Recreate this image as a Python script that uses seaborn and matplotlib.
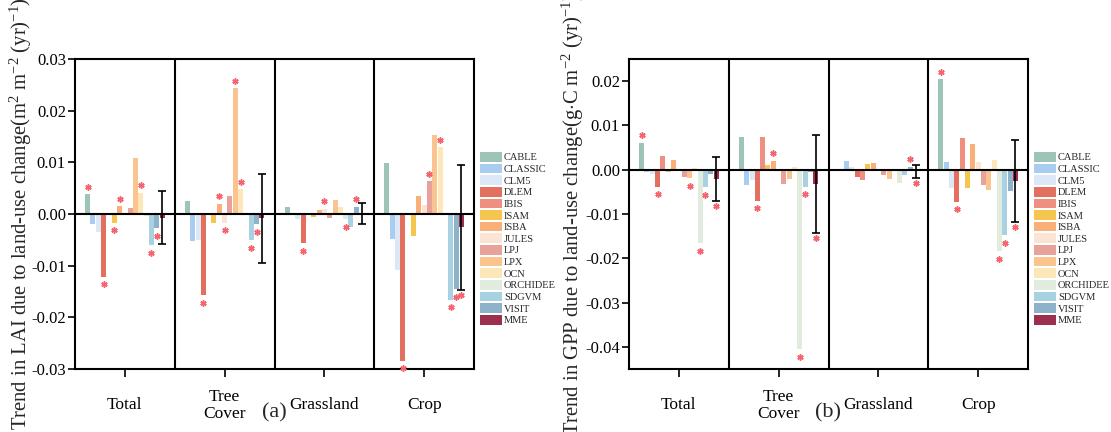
import numpy as np
import pandas as pd
import matplotlib
matplotlib.use("Agg")
import matplotlib.pyplot as plt
import seaborn as sns
from matplotlib.transforms import offset_copy

models = ["CABLE", "CLASSIC", "CLM5", "DLEM", "IBIS", "ISAM", "ISBA", "JULES",
          "LPJ", "LPX", "OCN", "ORCHIDEE", "SDGVM", "VISIT", "MME"]
regions = ["Total", "Tree\nCover", "Grassland", "Crop"]
colors = ["#9DC4B8", "#A9CDF0", "#DCE8F6", "#E3705F", "#EE8F80", "#F4C54F",
          "#FBAF78", "#FBE4D4", "#E9A29A", "#F9C48F", "#FDE6B8", "#E1ECDE",
          "#A8D1E1", "#8EB2C9", "#9B2F4D"]

# LAI trends (m2 m-2 yr-1)
lai_total = [0.0038, -0.0019, -0.0035, -0.0121, 0.0000, -0.0017, 0.0015, 0.0000,
             0.0011, 0.0108, 0.0041, -0.0003, -0.0060, -0.0027, -0.0007]
lai_tree = [0.0026, -0.0053, -0.0051, -0.0157, 0.0000, -0.0017, 0.0019, -0.0017,
            0.0035, 0.0243, 0.0048, 0.0000, -0.0051, -0.0019, -0.0008]
lai_grass = [0.0014, 0.0000, -0.0010, -0.0056, 0.0000, -0.0005, 0.0008, 0.0010,
             -0.0007, 0.0027, 0.0013, -0.0010, -0.0025, 0.0014, 0.0001]
lai_crop = [0.0098, -0.0048, -0.0108, -0.0284, 0.0000, -0.0043, 0.0035, 0.0018,
            0.0063, 0.0152, 0.0129, 0.0000, -0.0166, -0.0145, -0.0026]
lai_mme_err = [0.0052, 0.0086, 0.0020, 0.0121]
lai_stars = [["CABLE", "DLEM", "ISAM", "ISBA", "OCN", "SDGVM", "VISIT"],
             ["DLEM", "ISBA", "JULES", "LPX", "OCN", "SDGVM", "VISIT"],
             ["DLEM", "JULES", "ORCHIDEE", "VISIT"],
             ["DLEM", "LPJ", "OCN", "SDGVM", "VISIT", "MME"]]

# GPP trends (g C m-2 yr-1)
gpp_total = [0.0060, -0.0006, -0.0009, -0.0038, 0.0030, -0.0005, 0.0023, -0.0002,
             -0.0017, -0.0019, 0.0005, -0.0166, -0.0039, -0.0009, -0.0021]
gpp_tree = [0.0074, -0.0034, -0.0024, -0.0070, 0.0074, 0.0011, 0.0020, -0.0002,
            -0.0032, -0.0021, 0.0006, -0.0405, -0.0038, -0.0006, -0.0032]
gpp_grass = [0.0000, 0.0020, 0.0006, -0.0017, -0.0024, 0.0014, 0.0015, -0.0002,
             -0.0013, -0.0020, 0.0000, -0.0029, -0.0013, 0.0006, -0.0004]
gpp_crop = [0.0204, 0.0017, -0.0041, -0.0072, 0.0072, -0.0041, 0.0057, 0.0017,
            -0.0034, -0.0045, 0.0021, -0.0184, -0.0147, -0.0048, -0.0025]
gpp_mme_err = [0.0050, 0.0110, 0.0014, 0.0092]
gpp_stars = [["CABLE", "DLEM", "LPX", "ORCHIDEE", "SDGVM", "MME"],
             ["DLEM", "ISBA", "ORCHIDEE", "SDGVM", "MME"],
             ["VISIT", "MME"],
             ["CABLE", "DLEM", "ORCHIDEE", "SDGVM", "MME"]]

sns.set_style("ticks")
plt.rcParams["font.family"] = ["Liberation Serif", "DejaVu Serif"]
plt.rcParams["mathtext.fontset"] = "custom"
plt.rcParams["mathtext.rm"] = "Liberation Serif"
plt.rcParams["mathtext.it"] = "Liberation Serif:italic"

fig = plt.figure(figsize=(11.11, 4.32), dpi=100)
ax1 = fig.add_axes([75 / 1111, 63 / 432, 399 / 1111, 310 / 432])
ax2 = fig.add_axes([629 / 1111, 63 / 432, 399 / 1111, 310 / 432])


def draw(ax, series, errs, stars, ylim, yticks, ylabel, tag, label_x):
    rows = []
    for reg, vals in zip(regions, series):
        for m, v in zip(models, vals):
            rows.append({"region": reg, "model": m, "value": v})
    df = pd.DataFrame(rows)
    sns.barplot(data=df, x="region", y="value", hue="model", order=regions,
                hue_order=models, palette=colors, errorbar=None, width=0.8,
                gap=0.06, linewidth=0, saturation=1, ax=ax, zorder=2)

    up = offset_copy(ax.transData, fig=fig, x=0, y=7.7, units="dots")
    dn = offset_copy(ax.transData, fig=fig, x=0, y=-7.7, units="dots")
    dn2 = offset_copy(ax.transData, fig=fig, x=0, y=-5, units="dots")
    star_kw = dict(marker=(6, 2, 0), ms=4.5, mew=1.1, color="#F5646E",
                   linestyle="none", zorder=5, clip_on=False)

    mme = ax.containers[models.index("MME")]
    for i, bar in enumerate(mme.patches):
        xc = bar.get_x() + bar.get_width() / 2
        v = series[i][-1]
        ax.errorbar(xc, v, yerr=errs[i], color="black", lw=1.2, capsize=3.2,
                    capthick=1.2, zorder=6)
    for i in range(len(regions)):
        for m in stars[i]:
            k = models.index(m)
            bar = ax.containers[k].patches[i]
            xc = bar.get_x() + bar.get_width() / 2
            v = series[i][k]
            if m == "MME":
                ax.plot(xc, v - errs[i], transform=dn2, **star_kw)
            elif v >= 0:
                ax.plot(xc, v, transform=up, **star_kw)
            else:
                ax.plot(xc, v, transform=dn, **star_kw)

    ax.axhline(0, color="black", lw=1.5, zorder=4)
    for xv in [0.5, 1.5, 2.5]:
        ax.axvline(xv, color="black", lw=1.5, zorder=4)
    ax.set_xlim(-0.5, 3.5)
    ax.set_ylim(*ylim)
    ax.set_yticks(yticks)
    ax.set_yticklabels([f"{t:.2f}" for t in yticks], fontsize=12)
    ax.set_xticks(range(len(regions)))
    ax.set_xticklabels(regions, fontsize=12.5, linespacing=1.1)
    for lab in ax.get_xticklabels():
        lab.set_verticalalignment("center")
    ax.tick_params(axis="x", length=6, width=1.2, pad=20, colors="black")
    ax.tick_params(axis="y", length=5, width=1.2, pad=1.5, colors="black")
    for s in ax.spines.values():
        s.set_visible(True)
        s.set_linewidth(1.5)
        s.set_color("black")
    ax.set_xlabel("")
    ax.set_ylabel(ylabel, fontsize=14.9)
    ax.yaxis.set_label_coords(label_x, 0.5)
    ax.text(0.5, -0.142, tag, transform=ax.transAxes, ha="center", va="center",
            fontsize=16)
    handles, labels = ax.get_legend_handles_labels()
    ax.legend(handles, labels, loc="upper left", bbox_to_anchor=(1.015, 0.70),
              frameon=False, borderaxespad=0, borderpad=0, fontsize=7.5,
              handlelength=2.1, handleheight=1.05, labelspacing=0.12,
              handletextpad=0.2)


draw(ax1, [lai_total, lai_tree, lai_grass, lai_crop], lai_mme_err, lai_stars,
     (-0.03, 0.03), np.round(np.arange(-0.03, 0.031, 0.01), 2),
     r"Trend in LAI due to land-use change(m$^2$ m$^{-2}$ (yr)$^{-1}$)", "(a)", -0.102)
draw(ax2, [gpp_total, gpp_tree, gpp_grass, gpp_crop], gpp_mme_err, gpp_stars,
     (-0.045, 0.025), np.round(np.arange(-0.04, 0.021, 0.01), 2),
     r"Trend in GPP due to land-use change(g$\cdot$C m$^{-2}$ (yr)$^{-1}$)", "(b)", -0.108)

fig.savefig("out.png", dpi=100)
